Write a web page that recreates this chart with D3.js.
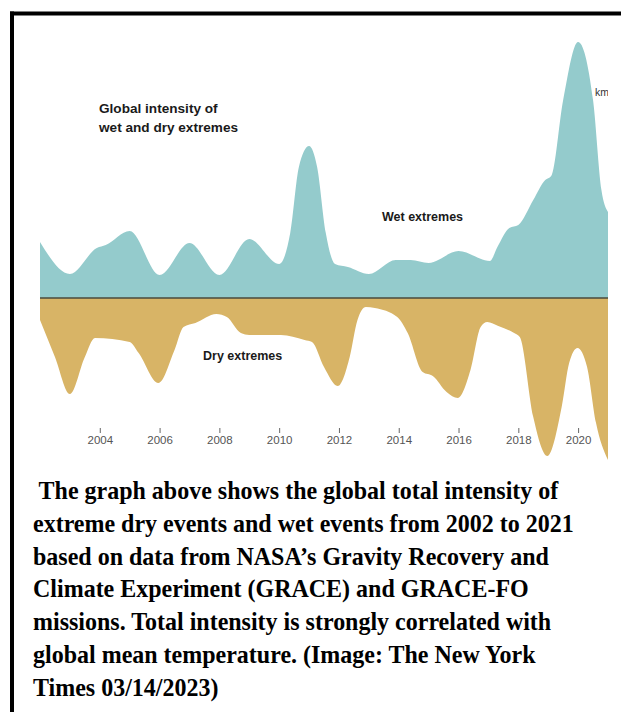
<!DOCTYPE html>
<html>
<head>
<meta charset="utf-8">
<script src="https://cdn.jsdelivr.net/npm/d3@7/dist/d3.min.js"></script>
<style>
  html, body { margin: 0; padding: 0; background: #fff; }
  svg { display: block; }
</style>
</head>
<body>
<svg id="chart" width="621" height="712"></svg>
<script>
// ---- Data (arbitrary intensity units) ----
const wetYears  = [2002.0, 2003.0, 2003.9, 2004.2, 2005.0, 2006.0, 2007.0, 2008.0, 2009.0, 2010.0,
                   2010.37, 2010.66, 2011.0, 2011.27, 2011.56, 2011.87, 2012.3, 2013.0, 2013.9, 2014.4,
                   2015.0, 2016.0, 2017.05, 2017.3, 2017.7, 2018.0, 2018.5, 2018.9, 2019.1, 2019.5,
                   2020.0, 2020.5, 2020.78, 2021.0];
const wetValues = [56, 24, 50, 53, 67, 23, 55, 23, 59, 34,
                   65, 131, 152, 131, 65, 34, 31, 24, 38, 38,
                   35, 47, 37, 51, 70, 73, 98, 118, 122, 198,
                   256, 198, 108, 86];

const dryYears  = [2002.0, 2002.5, 2003.0, 2003.5, 2003.84, 2005.0, 2005.3, 2005.96, 2006.5, 2006.8,
                   2007.2, 2007.9, 2008.25, 2008.72, 2009.0, 2010.06, 2010.85, 2011.1, 2011.5, 2011.96,
                   2012.36, 2012.62, 2012.9, 2013.2, 2013.95, 2014.3, 2014.8, 2015.14, 2015.6, 2015.98,
                   2016.4, 2016.74, 2016.96, 2017.33, 2017.86, 2018.05, 2018.5, 2018.97, 2019.45, 2019.7,
                   2019.98, 2020.3, 2020.6, 2021.0];
const dryValues = [-22, -59, -96, -59, -40, -44, -55, -85, -52, -29,
                   -25, -16, -19, -35, -37, -37, -42, -44, -69, -88,
                   -59, -22, -9, -10, -19, -35, -74, -78, -94, -100,
                   -72, -29, -24, -28, -35, -39, -119, -158, -109, -65,
                   -50, -69, -125, -162];

const tickYears = [2004, 2006, 2008, 2010, 2012, 2014, 2016, 2018, 2020];

const titleLines = ["Global intensity of", "wet and dry extremes"];
const wetLabel = "Wet extremes";
const dryLabel = "Dry extremes";
const unitLabel = "km³";
const captionLines = [
  " The graph above shows the global total intensity of",
  "extreme dry events and wet events from 2002 to 2021",
  "based on data from NASA’s Gravity Recovery and",
  "Climate Experiment (GRACE) and GRACE-FO",
  "missions. Total intensity is strongly correlated with",
  "global mean temperature. (Image: The New York",
  "Times 03/14/2023)"
];

// ---- Layout ----
const svg = d3.select("#chart");
const W = 621, H = 712;
const left = 40, right = 608;
const baseY = 298;

const x = d3.scaleLinear().domain([2002, 2021]).range([left, right]);
const y = d3.scaleLinear().domain([0, 256]).range([baseY, 42]);

const wet = wetYears.map((t, i) => ({t, v: wetValues[i]}));
const dry = dryYears.map((t, i) => ({t, v: dryValues[i]}));

svg.append("defs").append("clipPath").attr("id", "plotclip")
  .append("rect").attr("x", left).attr("y", 0).attr("width", right - left).attr("height", H);

const plot = svg.append("g").attr("clip-path", "url(#plotclip)");

const area = d3.area()
  .x(d => x(d.t))
  .y0(y(0))
  .y1(d => y(d.v))
  .curve(d3.curveMonotoneX);

plot.append("path").datum(wet).attr("d", area).attr("fill", "#94cbcc");
plot.append("path").datum(dry).attr("d", area).attr("fill", "#d8b466");

plot.append("line")
  .attr("x1", left).attr("x2", right)
  .attr("y1", y(0)).attr("y2", y(0))
  .attr("stroke", "#4a4a3c").attr("stroke-width", 1.5);

// unit label (clipped at right edge)
plot.append("text")
  .attr("x", 595).attr("y", 96)
  .attr("font-family", "Liberation Sans, Arial, sans-serif")
  .attr("font-size", 10.5)
  .attr("fill", "#333")
  .text(unitLabel);

// ---- X axis ----
const xAxis = d3.axisBottom(x)
  .tickValues(tickYears)
  .tickFormat(d3.format("d"))
  .tickSize(5)
  .tickPadding(3);

const ax = svg.append("g").attr("transform", "translate(0,428)").call(xAxis);
ax.select(".domain").remove();
ax.selectAll(".tick line").attr("stroke", "#666").attr("stroke-width", 1);
ax.selectAll(".tick text")
  .attr("font-family", "Liberation Sans, Arial, sans-serif")
  .attr("font-size", 11.5)
  .attr("fill", "#555");

// ---- Annotations ----
const sansBold = "Liberation Sans, Arial, sans-serif";
svg.append("g").selectAll("text").data(titleLines).join("text")
  .attr("x", 99).attr("y", (d, i) => 113 + i * 19)
  .attr("font-family", sansBold).attr("font-weight", 700)
  .attr("font-size", 13.6).attr("fill", "#1a1a1a")
  .text(d => d);

svg.append("text").attr("x", 382).attr("y", 221)
  .attr("font-family", sansBold).attr("font-weight", 700)
  .attr("font-size", 12.5).attr("fill", "#1a1a1a").text(wetLabel);

svg.append("text").attr("x", 203).attr("y", 360)
  .attr("font-family", sansBold).attr("font-weight", 700)
  .attr("font-size", 12.5).attr("fill", "#1a1a1a").text(dryLabel);

// ---- Caption ----
svg.append("g").selectAll("text").data(captionLines).join("text")
  .attr("transform", (d, i) => `translate(33,${499 + i * 32.8}) scale(1,1.05)`)
  .attr("font-family", "Liberation Serif, Times New Roman, serif")
  .attr("font-weight", 700)
  .attr("font-size", 24)
  .attr("fill", "#000")
  .attr("xml:space", "preserve")
  .style("white-space", "pre")
  .text(d => d);

// ---- Frame (top and left black borders) ----
svg.append("rect").attr("x", 10).attr("y", 11.5).attr("width", W - 10).attr("height", 4).attr("fill", "#000");
svg.append("rect").attr("x", 10).attr("y", 11.5).attr("width", 4).attr("height", H - 11.5).attr("fill", "#000");
</script>
</body>
</html>
